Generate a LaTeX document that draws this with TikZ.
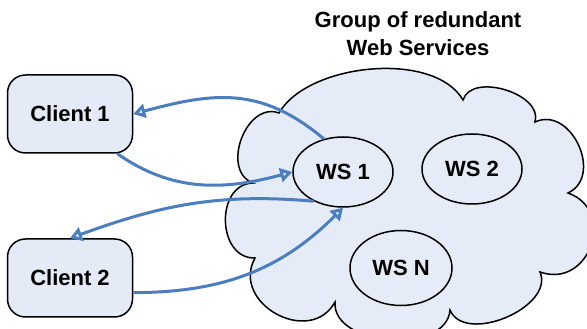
\documentclass[tikz,border=0pt]{standalone}
\usepackage{fontspec}
\setmainfont{Liberation Sans}
\usetikzlibrary{positioning}
\usetikzlibrary{shapes.geometric}
\usetikzlibrary{arrows.meta}
\pgfdeclarelayer{background}
\pgfsetlayers{background,main}
\definecolor{boxfill}{RGB}{228,234,246}
\definecolor{cloudfill}{RGB}{230,236,247}
\definecolor{linkblue}{RGB}{74,126,193}

\begin{document}
\begin{tikzpicture}[x=1pt, y=1pt,
		clientnode/.style={rectangle, rounded corners=18pt, draw=black, line width=1.5pt, fill=boxfill, minimum width=125pt, minimum height=78pt, inner sep=0pt, font=\fontsize{22}{26}\selectfont\bfseries},
		wsnode/.style={ellipse, draw=black, line width=1.5pt, inner sep=0pt, minimum width=100pt, minimum height=70pt, font=\fontsize{22}{26}\selectfont\bfseries},
		titlenode/.style={align=center, inner sep=0pt, font=\fontsize{22}{28}\selectfont\bfseries},
		link/.style={draw=linkblue, line width=3pt, -{Triangle[open, length=12pt, width=14pt]}},
		]
	\useasboundingbox (0,0) rectangle (587,329);
	\clip (0,0) rectangle (587,329);
	%Nodes
	\node[clientnode]   (c1)    at  (70,215)    {Client 1};
	\node[clientnode]   (c2)    at  (70,51)     {Client 2};
	\node[wsnode]       (ws1)   at  (343,157)   {WS 1};
	\node[wsnode]       (ws2)   at  (472,160)   {WS 2};
	\node[wsnode, minimum width=102pt, minimum height=75pt] (wsn) at (401,61) {WS N};
	\node[titlenode]    (title) at  (418,295)   {Group of redundant\\Web Services};

	\begin{pgfonlayer}{background}
	%Cloud
	\path[draw=black, line width=1.5pt, fill=cloudfill]
		(253,146) to[bend left=90, looseness=1.2] (279,216)
		to[out=60, in=120, looseness=0.8] (463,229)
		to[bend left=90, looseness=1.0] (535,207)
		to[bend left=90, looseness=1.3] (568,136)
		to[bend left=90, looseness=1.6] (540,57)
		to[bend left=90, looseness=1.0] (450,19)
		to[bend left=90, looseness=1.0] (335,27)
		to[bend left=90, looseness=1.45] (255,71)
		to[bend left=90, looseness=1.3] (253,146) -- cycle;
	\end{pgfonlayer}

	%Lines
	\draw[link] (ws1.120) to[out=140, in=15, looseness=1.1] (c1.east);
	\draw[link] (c1.-40) to[out=-35, in=195] (ws1.west);
	\draw[link] (ws1.225) to[out=175, in=20] (c2.north);
	\draw[link] (c2.-13) to[out=0, in=-135] (ws1.south);
\end{tikzpicture}
\end{document}
